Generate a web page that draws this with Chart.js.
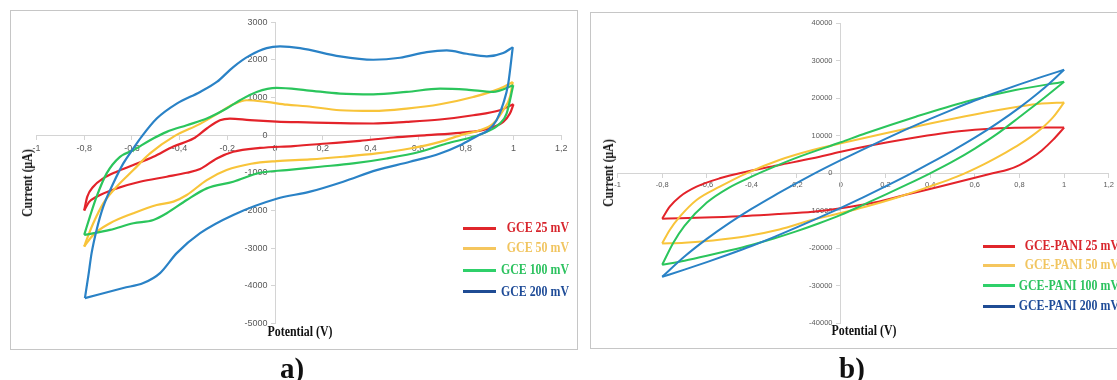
<!DOCTYPE html>
<html>
<head>
<meta charset="utf-8">
<script src="https://cdn.jsdelivr.net/npm/chart.js@4.4.1/dist/chart.umd.min.js"></script>
<style>
  html, body { margin: 0; padding: 0; background: #fff; }
  body { width: 1117px; height: 380px; position: relative; overflow: hidden; }
  .frame { position: absolute; border: 1.5px solid #c6c6c6; box-sizing: border-box; }
  canvas { position: absolute; top: 0; }
  .txt { position: absolute; white-space: nowrap; font-family: "Liberation Serif", "Times New Roman", serif; font-weight: bold; line-height: 1; }
  .ctr { transform: translate(-50%, -50%) scaleX(0.85); }
  .rot { transform: translate(-50%, -50%) rotate(-90deg) scaleX(0.85); }
  .leg { transform-origin: right center; transform: translate(-100%, -50%) scaleX(0.85); font-size: 14px; }
  .legline { position: absolute; height: 3px; }
</style>
</head>
<body>
<div class="frame" style="left:10px;top:10px;width:568px;height:340px;"></div>
<div class="frame" style="left:590px;top:12px;width:540px;height:337px;"></div>
<canvas id="chartA" width="580" height="360" style="left:0;"></canvas>
<canvas id="chartB" width="537" height="360" style="left:580px;"></canvas>

<div class="txt rot" style="left:28px;top:183px;font-size:14px;color:#111;">Current (μA)</div>
<div class="txt ctr" style="left:300px;top:332px;font-size:14px;color:#111;">Potential (V)</div>
<div class="txt rot" style="left:609px;top:173px;font-size:14px;color:#111;">Current (μA)</div>
<div class="txt ctr" style="left:864px;top:331px;font-size:14px;color:#111;">Potential (V)</div>
<div class="txt" style="left:292px;top:368px;font-size:29px;color:#111;transform:translate(-50%,-50%);">a)</div>
<div class="txt" style="left:852px;top:368px;font-size:29px;color:#111;transform:translate(-50%,-50%);">b)</div>
<div id="legendA"></div>
<div id="legendB"></div>

<script>
// ---- a) bare GCE: potential (V) vs current (µA), forward and reverse sweeps
var gce25Fwd = [[-0.8,-2000],[-0.787,-1635],[-0.762,-1370],[-0.72,-1149],[-0.664,-972],[-0.594,-795],[-0.51,-575],[-0.426,-300],[-0.342,-90],[-0.286,177],[-0.231,398],[-0.189,442],[-0.105,398],[0.007,360],[0.133,340],[0.273,320],[0.412,310],[0.552,353],[0.692,416],[0.831,530],[0.943,663],[1.0,822]];
var gce25Rev = [[1.0,822],[0.985,575],[0.957,353],[0.92,230],[0.86,120],[0.776,62],[0.636,0],[0.496,-62],[0.356,-150],[0.217,-221],[0.077,-290],[-0.063,-340],[-0.175,-442],[-0.244,-619],[-0.314,-900],[-0.37,-1000],[-0.454,-1105],[-0.566,-1237],[-0.664,-1414],[-0.748,-1635],[-0.78,-1780],[-0.8,-2000]];
var gce50Fwd = [[-0.8,-2960],[-0.79,-2783],[-0.762,-2341],[-0.72,-1811],[-0.664,-1370],[-0.594,-928],[-0.524,-486],[-0.42,-20],[-0.314,300],[-0.244,560],[-0.175,820],[-0.119,928],[-0.035,883],[0.05,810],[0.133,769],[0.273,663],[0.412,645],[0.552,707],[0.692,822],[0.831,1015],[0.943,1237],[0.997,1414]];
var gce50Rev = [[0.997,1414],[0.985,1015],[0.957,663],[0.915,310],[0.86,133],[0.79,20],[0.692,-177],[0.566,-354],[0.426,-486],[0.286,-574],[0.147,-645],[0.007,-690],[-0.1,-760],[-0.203,-928],[-0.286,-1193],[-0.37,-1590],[-0.426,-1767],[-0.496,-1855],[-0.594,-2075],[-0.692,-2341],[-0.762,-2650],[-0.8,-2960]];
var gce100Fwd = [[-0.8,-2650],[-0.776,-2165],[-0.748,-1635],[-0.706,-1015],[-0.65,-575],[-0.594,-400],[-0.524,-133],[-0.454,88],[-0.37,265],[-0.286,442],[-0.203,707],[-0.147,928],[-0.077,1149],[0.007,1255],[0.133,1193],[0.273,1105],[0.412,1087],[0.552,1149],[0.692,1237],[0.804,1211],[0.915,1149],[0.999,1325]];
var gce100Rev = [[0.999,1325],[0.971,575],[0.943,310],[0.888,88],[0.82,-60],[0.72,-221],[0.608,-442],[0.468,-619],[0.328,-751],[0.189,-840],[0.049,-928],[-0.063,-1000],[-0.175,-1237],[-0.286,-1414],[-0.37,-1723],[-0.454,-2075],[-0.51,-2253],[-0.594,-2341],[-0.692,-2518],[-0.8,-2650]];
var gce200Fwd = [[-0.797,-4330],[-0.783,-3755],[-0.769,-3135],[-0.748,-2518],[-0.72,-1900],[-0.678,-1280],[-0.636,-750],[-0.594,-353],[-0.56,-45],[-0.496,442],[-0.412,839],[-0.314,1149],[-0.244,1414],[-0.175,1811],[-0.105,2120],[-0.035,2315],[0.021,2359],[0.105,2315],[0.273,2094],[0.412,2005],[0.524,2058],[0.636,2208],[0.72,2252],[0.804,2164],[0.888,2094],[0.957,2182],[0.997,2340]];
var gce200Rev = [[0.997,2340],[0.978,1370],[0.957,840],[0.929,398],[0.894,133],[0.853,0],[0.776,-265],[0.692,-485],[0.566,-707],[0.426,-928],[0.286,-1237],[0.147,-1502],[0.007,-1690],[-0.175,-2120],[-0.314,-2605],[-0.412,-3135],[-0.482,-3665],[-0.552,-3930],[-0.636,-4062],[-0.797,-4330]];

// ---- b) GCE-PANI
var pani25Fwd = [[-0.8,-12100],[-0.766,-8900],[-0.721,-6230],[-0.646,-3570],[-0.542,-1340],[-0.423,430],[-0.275,2220],[-0.126,4000],[0,5760],[0.15,7600],[0.3,9200],[0.45,10600],[0.6,11600],[0.75,12100],[0.9,12200],[1.0,12200]];
var pani25Rev = [[1.0,12200],[0.95,8900],[0.9,6100],[0.85,3900],[0.8,2200],[0.75,1000],[0.68,0],[0.56,-1790],[0.44,-3570],[0.3,-5600],[0.15,-7800],[0,-9330],[-0.126,-10240],[-0.275,-10860],[-0.423,-11390],[-0.572,-11740],[-0.721,-12000],[-0.8,-12100]];
var pani50Fwd = [[-0.8,-18700],[-0.766,-15120],[-0.721,-11570],[-0.646,-7120],[-0.542,-3570],[-0.423,0],[-0.275,3550],[-0.126,6210],[0,8000],[0.2,10700],[0.4,13300],[0.6,15700],[0.8,17800],[0.9,18600],[1.0,18900]];
var pani50Rev = [[1.0,18900],[0.95,14900],[0.9,12000],[0.85,9700],[0.8,7700],[0.74,5600],[0.64,2400],[0.52,-900],[0.4,-3500],[0.26,-6300],[0.11,-8900],[0,-10600],[-0.126,-12400],[-0.275,-15000],[-0.423,-16800],[-0.572,-17900],[-0.7,-18500],[-0.8,-18700]];
var pani100Fwd = [[-0.8,-24400],[-0.75,-18500],[-0.7,-14000],[-0.6,-7800],[-0.5,-3800],[-0.4,-900],[-0.3,1700],[-0.185,4430],[0,8270],[0.112,10670],[0.336,15100],[0.559,19100],[0.782,22200],[1.0,24430]];
var pani100Rev = [[1.0,24430],[0.9,19600],[0.8,15000],[0.7,10500],[0.6,6600],[0.5,3100],[0.4,0],[0.3,-2900],[0.2,-5700],[0.1,-8400],[0,-11100],[-0.1,-13400],[-0.2,-15500],[-0.3,-17400],[-0.4,-19100],[-0.5,-20600],[-0.6,-22000],[-0.7,-23300],[-0.8,-24400]];
var pani200Fwd = [[-0.8,-27600],[-0.7,-22200],[-0.6,-17500],[-0.5,-13300],[-0.4,-9500],[-0.3,-6000],[-0.2,-2700],[-0.1,500],[0,3500],[0.1,6400],[0.2,9200],[0.3,11900],[0.4,14500],[0.5,17000],[0.6,19400],[0.7,21600],[0.8,23700],[0.9,25700],[1.0,27600]];
var pani200Rev = [[1.0,27600],[0.9,22200],[0.8,17500],[0.7,13300],[0.6,9500],[0.5,6000],[0.4,2700],[0.3,-500],[0.2,-3500],[0.1,-6400],[0,-9200],[-0.1,-11900],[-0.2,-14500],[-0.3,-17000],[-0.4,-19400],[-0.5,-21600],[-0.6,-23700],[-0.7,-25700],[-0.8,-27600]];

var seriesA = ['GCE 25 mV', 'GCE 50 mV', 'GCE 100 mV', 'GCE 200 mV'];
var seriesB = ['GCE-PANI 25 mV', 'GCE-PANI 50 mV', 'GCE-PANI 100 mV', 'GCE-PANI 200 mV'];

var xTicks = [-1, -0.8, -0.6, -0.4, -0.2, 0, 0.2, 0.4, 0.6, 0.8, 1, 1.2];
var xTickLabels = ['-1', '-0,8', '-0,6', '-0,4', '-0,2', '0', '0,2', '0,4', '0,6', '0,8', '1', '1,2'];
var yTicksA = [-5000, -4000, -3000, -2000, -1000, 0, 1000, 2000, 3000];
var yTicksB = [-40000, -30000, -20000, -10000, 0, 10000, 20000, 30000, 40000];

var lineColors = ['#e3232a', '#f8c43a', '#2bc55c', '#2a82c6'];
var legendLineColors = ['#e0262b', '#f5c65e', '#2fd06a', '#1f4c94'];
var legendTextColors = ['#d8262d', '#f1c560', '#2cc25f', '#1f4c98'];

// labels of an axis that sits on x = 0 get no padding from Chart.js, so pad with spaces
function tickLabel(ticks, labels, tail) {
  return function (value) {
    for (var i = 0; i < ticks.length; i++) {
      if (Math.abs(ticks[i] - value) < 1e-6) return (labels ? labels[i] : String(ticks[i])) + (tail || '');
    }
    return '';
  };
}

function makeChart(canvasId, branches, yTicks, yRange, padding, opts) {
  var datasets = [];
  branches.forEach(function (pair, i) {
    pair.forEach(function (pts) {
      datasets.push({
        data: pts,
        showLine: true,
        borderColor: lineColors[i],
        borderWidth: opts.lineW,
        pointRadius: 0,
        fill: false,
        cubicInterpolationMode: 'monotone',
        order: 3 - i
      });
    });
  });

  var tickFont = { family: '"Liberation Sans", Arial, sans-serif', size: opts.fontSize };
  return new Chart(document.getElementById(canvasId).getContext('2d'), {
    type: 'scatter',
    data: { datasets: datasets },
    options: {
      responsive: false,
      animation: false,
      layout: { padding: padding },
      plugins: { legend: { display: false }, tooltip: { enabled: false } },
      scales: {
        x: {
          type: 'linear',
          min: -1,
          max: 1.2,
          position: { y: 0 },
          afterFit: function (s) { s.height = 0; },
          afterBuildTicks: function (s) { s.ticks = xTicks.map(function (v) { return { value: v }; }); },
          ticks: { autoSkip: false, maxRotation: 0, padding: opts.xPad, color: '#5a5a5a', font: tickFont,
            callback: tickLabel(xTicks, xTickLabels) },
          grid: { drawOnChartArea: false, tickLength: 4, color: '#d4d4d4' },
          border: { color: '#d4d4d4', width: 1 }
        },
        y: {
          type: 'linear',
          min: yRange[0],
          max: yRange[1],
          position: { x: 0 },
          afterFit: function (s) { s.width = 0; },
          afterBuildTicks: function (s) { s.ticks = yTicks.map(function (v) { return { value: v }; }); },
          ticks: { autoSkip: false, color: '#5a5a5a', font: tickFont,
            callback: tickLabel(yTicks, null, opts.yGap) },
          grid: { drawOnChartArea: false, tickLength: 4, color: '#d4d4d4' },
          border: { color: '#d4d4d4', width: 1 }
        }
      }
    }
  });
}

function makeLegend(holderId, names, lineX1, lineX2, textRight, rows) {
  var holder = document.getElementById(holderId);
  names.forEach(function (name, i) {
    var ln = document.createElement('div');
    ln.className = 'legline';
    ln.style.left = lineX1 + 'px';
    ln.style.width = (lineX2 - lineX1) + 'px';
    ln.style.top = (rows[i] - 1.5) + 'px';
    ln.style.background = legendLineColors[i];
    holder.appendChild(ln);

    var tx = document.createElement('div');
    tx.className = 'txt leg';
    tx.style.left = textRight + 'px';
    tx.style.top = rows[i] + 'px';
    tx.style.color = legendTextColors[i];
    tx.textContent = name;
    holder.appendChild(tx);
  });
}

makeChart('chartA',
  [[gce25Fwd, gce25Rev], [gce50Fwd, gce50Rev], [gce100Fwd, gce100Rev], [gce200Fwd, gce200Rev]],
  yTicksA, [-5000, 3000], { left: 36.5, right: 18.8, top: 22.3, bottom: 36.7 },
  { xPad: 4, lineW: 2.2, fontSize: 9, yGap: '   ' });
makeChart('chartB',
  [[pani25Fwd, pani25Rev], [pani50Fwd, pani50Rev], [pani100Fwd, pani100Rev], [pani200Fwd, pani200Rev]],
  yTicksB, [-40000, 40000], { left: 37.5, right: 6.7, top: 23.3, bottom: 36.7 },
  { xPad: 3, lineW: 2, fontSize: 7.5, yGap: '    ' });

makeLegend('legendA', seriesA, 463, 496, 569, [228.3, 248.3, 270, 291.7]);
makeLegend('legendB', seriesB, 983, 1015, 1119, [246, 265, 285.7, 306]);
</script>
</body>
</html>
